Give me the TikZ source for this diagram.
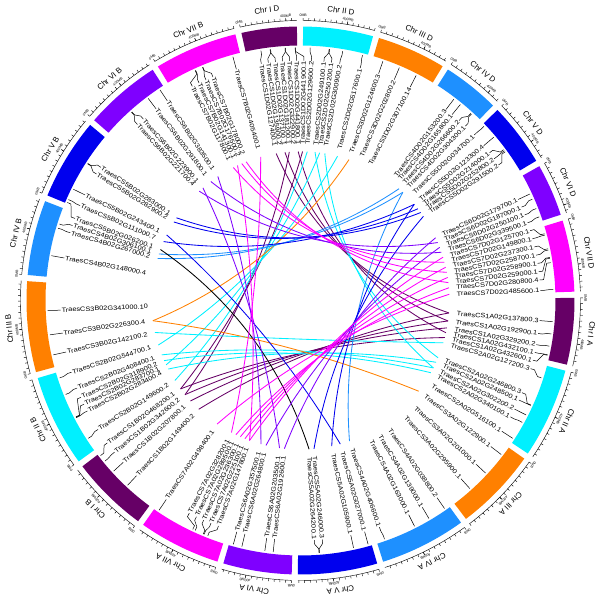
\documentclass[tikz,border=0pt]{standalone}
\usepackage{fontspec}
\setmainfont{Liberation Sans}
\newfontfamily\genefam[FakeStretch=1.16]{Liberation Sans}
\usetikzlibrary{calc}
\definecolor{grpI}{HTML}{660066}
\definecolor{grpII}{HTML}{00F0FF}
\definecolor{grpIII}{HTML}{FF8000}
\definecolor{grpIV}{HTML}{1E90FF}
\definecolor{grpV}{HTML}{0000EE}
\definecolor{grpVI}{HTML}{7F00FF}
\definecolor{grpVII}{HTML}{FF00FF}
\newcommand{\gfont}{\genefam\fontsize{4.5}{5}\selectfont}
\newcommand{\cfont}{\fontsize{5.6}{6.5}\selectfont}
\newcommand{\tfont}{\fontsize{2.5}{3}\selectfont}
% chromosome band: start angle, end angle, length (Mb), colour, label, node name
\newcommand{\chrseg}[6]{%
  \fill[#4] (#1:255) arc[start angle=#1,end angle=#2,radius=6.375cm]
    -- (#2:274) arc[start angle=#2,end angle=#1,radius=6.85cm] -- cycle;
  \draw[tick] (#1:280) arc[start angle=#1,end angle=#2,radius=7cm];
  \foreach \m in {0,50,...,#3}{%
    \pgfmathsetmacro{\ta}{#1-(#1-#2)*\m/#3}%
    \draw[tick] (\ta:280) -- (\ta:282.5);}
  \pgfmathsetmacro{\tb}{#1-(#1-#2)*400/#3}%
  \draw[tick] (\tb:280) -- (\tb:283);
  \node[mblab,rotate=#1-90] (#6z) at (#1:283.5) {0MB};
  \node[mblab,rotate=\tb-90] (#6f) at (\tb:283.5) {400MB};
  \pgfmathsetmacro{\tm}{(#1+#2)/2}%
  \node[chrlab,rotate=\tm-90] (#6) at (\tm:289.5) {#5};}
% gene label: node name, gene angle, label angle, text
\newcommand{\genelab}[4]{%
  \pgfmathsetmacro{\gc}{cos(#3)}%
  \ifdim\gc pt<0pt
    \node[glab,anchor=west,rotate=#3+180] (#1) at (#3:240) {#4};
    \draw[lead] (#2:253) -- (#2:249) -- (#3:244) -- (#1.west);
  \else
    \node[glab,anchor=east,rotate=#3] (#1) at (#3:240) {#4};
    \draw[lead] (#2:253) -- (#2:249) -- (#3:244) -- (#1.east);
  \fi
  \coordinate (#1e) at (#3:149);}
% link between two gene ends
\newcommand{\hlink}[3]{%
  \coordinate (lsum) at ($(#1e)+(#2e)$);
  \coordinate (lctl) at ($(0,0)!1.0cm!(lsum)$);
  \draw[link,#3] (#1e) .. controls ($(#1e)!0.667!(lctl)$) and ($(#2e)!0.667!(lctl)$) .. (#2e);}

\begin{document}
\begin{tikzpicture}[
    x=0.025cm, y=0.025cm,
    glab/.style={font=\gfont,inner sep=0.5pt},
    lead/.style={black,line width=0.35pt},
    tick/.style={black,line width=0.3pt},
    chrlab/.style={font=\cfont,inner sep=0pt,anchor=south},
    mblab/.style={font=\tfont,inner sep=0pt,anchor=south},
    link/.style={line width=0.6pt}
  ]
  \useasboundingbox (-300.5,-298.5) rectangle (299.5,300.5);

  \chrseg{102.45}{90.75}{495}{grpI}{Chr I D}{cID}
  \chrseg{89.45}{74.65}{651}{grpII}{Chr II D}{cIID}
  \chrseg{73.35}{58.75}{615}{grpIII}{Chr III D}{cIIID}
  \chrseg{57.45}{45.35}{509}{grpIV}{Chr IV D}{cIVD}
  \chrseg{44.05}{30.65}{566}{grpV}{Chr V D}{cVD}
  \chrseg{29.35}{18.25}{473}{grpVI}{Chr VI D}{cVID}
  \chrseg{16.95}{1.85}{638}{grpVII}{Chr VII D}{cVIID}
  \chrseg{0.55}{-13.55}{594}{grpI}{Chr I A}{cIA}
  \chrseg{-14.85}{-33.95}{780}{grpII}{Chr II A}{cIIA}
  \chrseg{-35.25}{-52.85}{750}{grpIII}{Chr III A}{cIIIA}
  \chrseg{-54.15}{-72.45}{744}{grpIV}{Chr IV A}{cIVA}
  \chrseg{-73.75}{-90.55}{709}{grpV}{Chr V A}{cVA}
  \chrseg{-91.85}{-106.35}{618}{grpVI}{Chr VI A}{cVIA}
  \chrseg{-107.65}{-125.05}{736}{grpVII}{Chr VII A}{cVIIA}
  \chrseg{-126.35}{-142.75}{689}{grpI}{Chr I B}{cIB}
  \chrseg{-144.05}{-163.55}{801}{grpII}{Chr II B}{cIIB}
  \chrseg{-164.85}{-184.05}{830}{grpIII}{Chr III B}{cIIIB}
  \chrseg{-185.35}{-201.25}{673}{grpIV}{Chr IV B}{cIVB}
  \chrseg{-202.55}{-219.85}{713}{grpV}{Chr V B}{cVB}
  \chrseg{-221.15}{-237.35}{720}{grpVI}{Chr VI B}{cVIB}
  \chrseg{-238.65}{-256.25}{750}{grpVII}{Chr VII B}{cVIIB}

  \genelab{g1D127}{99.0}{99.4}{TraesCS1D02G127400.1}
  \genelab{g1D135}{96.9}{97.7}{TraesCS1D02G135900.2}
  \genelab{g1D137}{96.8}{96.0}{TraesCS1D02G137100.1}
  \genelab{g1D181}{93.5}{94.3}{TraesCS1D02G181200.1}
  \genelab{g1D322}{93.4}{92.6}{TraesCS1D02G322900.2}
  \genelab{g1D441a}{91.2}{90.9}{TraesCS1D02G441800.1}
  \genelab{g1D441b}{91.1}{89.2}{TraesCS1D02G441900.1}
  \genelab{g2D129}{87.8}{87.4}{TraesCS2D02G129600.2}
  \genelab{g2D249}{83.5}{84.4}{TraesCS2D02G249100.1}
  \genelab{g2D250}{83.4}{82.6}{TraesCS2D02G250200.1}
  \genelab{g2D300}{80.4}{80.6}{TraesCS2D02G300900.2}
  \genelab{g2D517}{75.8}{75.6}{TraesCS2D02G517600.1}
  \genelab{g3D124}{71.0}{71.0}{TraesCS3D02G124600.3}
  \genelab{g3D202}{67.0}{67.0}{TraesCS3D02G202800.2}
  \genelab{g3D307}{62.8}{62.8}{TraesCS3D02G307100.14}
  \genelab{g4D153}{52.7}{52.7}{TraesCS4D02G153200.3}
  \genelab{g4D165}{50.8}{50.8}{TraesCS4D02G165800.1}
  \genelab{g4D266}{47.7}{48.6}{TraesCS4D02G266600.2}
  \genelab{g4D304}{47.5}{46.6}{TraesCS4D02G304300.1}
  \genelab{g5D034}{43.5}{43.6}{TraesCS5D02G034700.1}
  \genelab{g5D123}{40.2}{40.2}{TraesCS5D02G123300.4}
  \genelab{g5D214}{36.6}{38.0}{TraesCS5D02G214000.1}
  \genelab{g5D252}{36.3}{36.2}{TraesCS5D02G252800.2}
  \genelab{g5D291}{36.0}{34.4}{TraesCS5D02G291500.2}
  \genelab{g6D179}{24.9}{24.9}{TraesCS6D02G179700.1}
  \genelab{g6D187}{23.6}{22.9}{TraesCS6D02G187000.1}
  \genelab{g6D250}{21.3}{20.9}{TraesCS6D02G250100.1}
  \genelab{g6D339}{19.3}{18.9}{TraesCS6D02G339500.1}
  \genelab{g7D125}{15.3}{16.9}{TraesCS7D02G125700.1}
  \genelab{g7D149}{15.0}{14.9}{TraesCS7D02G149800.1}
  \genelab{g7D237}{11.8}{12.9}{TraesCS7D02G237300.1}
  \genelab{g7D258a}{11.5}{10.9}{TraesCS7D02G258700.1}
  \genelab{g7D258b}{9.8}{8.9}{TraesCS7D02G258900.1}
  \genelab{g7D259}{9.6}{6.9}{TraesCS7D02G259000.1}
  \genelab{g7D280}{8.6}{4.9}{TraesCS7D02G280800.4}
  \genelab{g7D485}{2.5}{2.4}{TraesCS7D02G485600.1}
  \genelab{g1A137}{-4.8}{-4.8}{TraesCS1A02G137800.3}
  \genelab{g1A192}{-7.6}{-7.9}{TraesCS1A02G192900.1}
  \genelab{g1A329}{-10.4}{-10.6}{TraesCS1A02G329200.2}
  \genelab{g1A432a}{-12.4}{-12.5}{TraesCS1A02G432100.1}
  \genelab{g1A432b}{-12.5}{-14.4}{TraesCS1A02G432600.1}
  \genelab{g2A127}{-17.8}{-16.5}{TraesCS2A02G127200.3}
  \genelab{g2A246}{-24.4}{-22.6}{TraesCS2A02G246800.3}
  \genelab{g2A248}{-24.5}{-24.5}{TraesCS2A02G248500.1}
  \genelab{g2A302}{-26.9}{-26.9}{TraesCS2A02G302200.2}
  \genelab{g2A340}{-28.8}{-29.0}{TraesCS2A02G340100.1}
  \genelab{g2A516}{-33.0}{-33.0}{TraesCS2A02G516100.1}
  \genelab{g3A122}{-37.5}{-37.5}{TraesCS3A02G122900.1}
  \genelab{g3A201}{-43.0}{-43.0}{TraesCS3A02G201000.1}
  \genelab{g3A295}{-48.0}{-48.0}{TraesCS3A02G295900.1}
  \genelab{g4A038}{-55.3}{-55.3}{TraesCS4A02G038800.2}
  \genelab{g4A139}{-59.5}{-59.5}{TraesCS4A02G139000.1}
  \genelab{g4A163}{-63.2}{-63.2}{TraesCS4A02G163000.1}
  \genelab{g4A406}{-70.6}{-70.8}{TraesCS4A02G406600.1}
  \genelab{g5A027}{-74.5}{-74.5}{TraesCS5A02G027000.1}
  \genelab{g5A105}{-77.9}{-77.9}{TraesCS5A02G105900.1}
  \genelab{g5A246}{-85.7}{-84.8}{TraesCS5A02G246000.3}
  \genelab{g5A264}{-85.8}{-86.7}{TraesCS5A02G264200.1}
  \genelab{g6A192}{-96.2}{-96.2}{TraesCS6A02G192600.1}
  \genelab{g6A203}{-98.1}{-98.1}{TraesCS6A02G203500.1}
  \genelab{g6A264}{-103.4}{-103.4}{TraesCS6A02G264800.1}
  \genelab{g6A357}{-105.4}{-105.4}{TraesCS6A02G357500.1}
  \genelab{g7A147}{-111.5}{-110.0}{TraesCS7A02G147800.1}
  \genelab{g7A225}{-112.4}{-111.9}{TraesCS7A02G225100.1}
  \genelab{g7A236}{-112.6}{-113.8}{TraesCS7A02G236300.1}
  \genelab{g7A289}{-114.6}{-115.7}{TraesCS7A02G289500.1}
  \genelab{g7A328}{-115.2}{-117.6}{TraesCS7A02G328200.1}
  \genelab{g7A498}{-124.0}{-124.0}{TraesCS7A02G498400.1}
  \genelab{g1B149}{-133.1}{-133.1}{TraesCS1B02G149400.2}
  \genelab{g1B207}{-137.6}{-137.6}{TraesCS1B02G207800.1}
  \genelab{g1B342}{-140.6}{-140.8}{TraesCS1B02G342600.2}
  \genelab{g1B468}{-142.2}{-143.6}{TraesCS1B02G468200.1}
  \genelab{g2B149}{-147.0}{-147.5}{TraesCS2B02G149600.2}
  \genelab{g2B283a}{-152.4}{-152.6}{TraesCS2B02G283400.4}
  \genelab{g2B283b}{-152.5}{-154.4}{TraesCS2B02G283700.1}
  \genelab{g2B318}{-152.6}{-156.2}{TraesCS2B02G318900.2}
  \genelab{g2B408}{-158.2}{-158.6}{TraesCS2B02G408400.1}
  \genelab{g2B544}{-162.2}{-162.6}{TraesCS2B02G544700.1}
  \genelab{g3B142}{-167.6}{-167.6}{TraesCS3B02G142100.2}
  \genelab{g3B226}{-172.2}{-172.2}{TraesCS3B02G226300.4}
  \genelab{g3B341}{-177.7}{-177.7}{TraesCS3B02G341000.10}
  \genelab{g4B148}{-190.2}{-190.2}{TraesCS4B02G148000.4}
  \genelab{g4B267}{-196.6}{-196.4}{TraesCS4B02G267000.2}
  \genelab{g4B306}{-197.6}{-198.2}{TraesCS4B02G306100.1}
  \genelab{g5B026}{-202.8}{-200.0}{TraesCS5B02G026200.1}
  \genelab{g5B111}{-203.5}{-203.3}{TraesCS5B02G111000.7}
  \genelab{g5B243}{-206.1}{-206.1}{TraesCS5B02G243400.1}
  \genelab{g5B282}{-212.7}{-211.8}{TraesCS5B02G282900.2}
  \genelab{g5B283}{-212.8}{-213.7}{TraesCS5B02G283000.1}
  \genelab{g6B221}{-228.1}{-227.2}{TraesCS6B02G221700.4}
  \genelab{g6B223}{-228.2}{-229.1}{TraesCS6B02G223900.1}
  \genelab{g6B291}{-233.0}{-233.0}{TraesCS6B02G291800.1}
  \genelab{g6B383}{-236.3}{-236.3}{TraesCS6B02G383500.1}
  \genelab{g7B117}{-245.4}{-243.2}{TraesCS7B02G117800.1}
  \genelab{g7B141}{-245.5}{-245.0}{TraesCS7B02G141300.1}
  \genelab{g7B176}{-247.2}{-246.8}{TraesCS7B02G176500.2}
  \genelab{g7B178}{-247.3}{-248.6}{TraesCS7B02G178000.2}
  \genelab{g7B405}{-254.5}{-254.5}{TraesCS7B02G405400.1}

  \hlink{g1D127}{g1A137}{grpI}
  \hlink{g1D137}{g1A192}{grpI}
  \hlink{g1D181}{g1B342}{grpI}
  \hlink{g1D441a}{g1A432a}{grpI}
  \hlink{g1D441b}{g1B468}{grpI}
  \hlink{g1A329}{g1B342}{grpI}
  \hlink{g1A432b}{g1B468}{grpI}
  \hlink{g1A137}{g1B149}{grpI}
  \hlink{g1A192}{g1B207}{grpI}
  \hlink{g2D129}{g2B149}{grpII}
  \hlink{g2D249}{g2A246}{grpII}
  \hlink{g2D250}{g2B283b}{grpII}
  \hlink{g2D300}{g2A302}{grpII}
  \hlink{g2D517}{g2B544}{grpII}
  \hlink{g3B142}{g2A127}{grpII}
  \hlink{g2A248}{g2B283a}{grpII}
  \hlink{g2A340}{g2B318}{grpII}
  \hlink{g2A302}{g2B408}{grpII}
  \hlink{g3D124}{g3B226}{grpIII}
  \hlink{g3B226}{g3A122}{grpIII}
  \hlink{g4D266}{g4B267}{grpIV}
  \hlink{g4D304}{g4B306}{grpIV}
  \hlink{g4A406}{g4D304}{grpIV}
  \hlink{g5D123}{g5B111}{grpV}
  \hlink{g5D214}{g5B282}{grpV}
  \hlink{g5D252}{g5B283}{grpV}
  \hlink{g5D291}{g5A246}{grpV}
  \hlink{g5A027}{g5B243}{grpV}
  \hlink{g5A105}{g5D123}{grpV}
  \hlink{g5A264}{g5B026}{black}
  \hlink{g6D179}{g6A192}{grpVI}
  \hlink{g6D187}{g6B221}{grpVI}
  \hlink{g6D250}{g6A264}{grpVI}
  \hlink{g6D339}{g6B291}{grpVI}
  \hlink{g6A203}{g6B223}{grpVI}
  \hlink{g6A357}{g6B383}{grpVI}
  \hlink{g7D125}{g7A147}{grpVII}
  \hlink{g7D149}{g7B117}{grpVII}
  \hlink{g7D237}{g7A225}{grpVII}
  \hlink{g7D258a}{g7B176}{grpVII}
  \hlink{g7D258b}{g7A236}{grpVII}
  \hlink{g7D259}{g7B178}{grpVII}
  \hlink{g7D280}{g7A289}{grpVII}
  \hlink{g7D485}{g7A498}{grpVII}
  \hlink{g7A328}{g7B405}{grpVII}
  \hlink{g7A147}{g7B141}{grpVII}
\end{tikzpicture}
\end{document}
